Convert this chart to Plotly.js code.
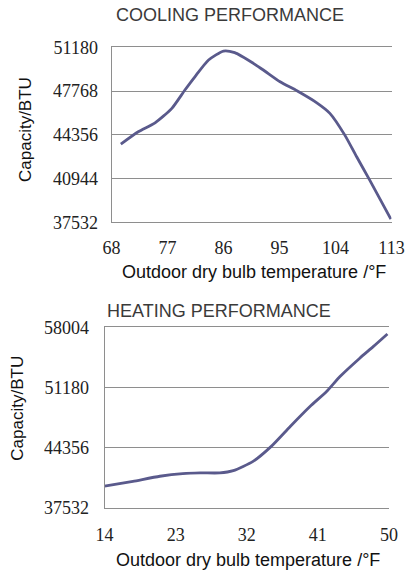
<!DOCTYPE html>
<html>
<head>
<meta charset="utf-8">
<script src="https://cdn.plot.ly/plotly-3.0.1.min.js"></script>
<style>
  html, body { margin: 0; padding: 0; background: #ffffff; }
  #chart { width: 409px; height: 572px; }
</style>
</head>
<body>
<div id="chart"></div>
<script>
// Cooling performance (outdoor dry bulb °F vs capacity BTU)
const coolingTemp = [69.5, 72.3, 75.0, 77.7, 79.8, 81.4, 83.6, 86.0, 87.8, 90.8, 92.4, 95.1, 97.8, 101.0, 103.1, 105.5, 107.4, 109.5, 112.9];
const coolingCap  = [43630, 44590, 45290, 46420, 47850, 48880, 50190, 50890, 50760, 49930, 49410, 48490, 47790, 46850, 46030, 44330, 42640, 40820, 37780];

// Heating performance
const heatingTemp = [14.0, 17.6, 21.0, 23.9, 26.1, 28.6, 30.3, 32.8, 35.1, 37.5, 40.0, 42.1, 43.8, 46.3, 48.0, 49.8];
const heatingCap  = [39980, 40540, 41110, 41410, 41490, 41490, 41750, 42800, 44500, 46760, 49020, 50720, 52420, 54500, 55810, 57250];

// Tick labels
const coolingXTicks = [68, 77, 86, 95, 104, 113];
const coolingYTicks = [37532, 40944, 44356, 47768, 51180];
const heatingXTicks = [14, 23, 32, 41, 50];
const heatingYTicks = [37532, 44356, 51180, 58004];

const titles = {
  cooling: "COOLING PERFORMANCE",
  heating: "HEATING PERFORMANCE",
  yTitle: "Capacity/BTU",
  xTitle: "Outdoor dry bulb temperature /°F"
};

const W = 409, H = 572;
const px = v => v / W;
const py = v => 1 - v / H;

const lineColor = "#5a5a8c";
const gridColor = "#8e8e8e";
const tickFont = { family: "Liberation Serif, serif", size: 18, color: "#222222" };
const titleFont = { family: "Liberation Sans, Arial, sans-serif", size: 18, color: "#3a3a3a" };
const axTitleFont = { family: "Liberation Sans, Arial, sans-serif", size: 17, color: "#111111" };

const traces = [
  { x: coolingTemp, y: coolingCap, xaxis: "x", yaxis: "y", type: "scatter", mode: "lines",
    line: { color: lineColor, width: 2.8, shape: "spline", smoothing: 0.6 }, hoverinfo: "skip" },
  { x: heatingTemp, y: heatingCap, xaxis: "x2", yaxis: "y2", type: "scatter", mode: "lines",
    line: { color: lineColor, width: 2.8, shape: "spline", smoothing: 0.6 }, hoverinfo: "skip" }
];

function xAxis(domain, range, ticks, anchor, standoff) {
  return {
    domain: domain, range: range, tickmode: "array", tickvals: ticks, ticktext: ticks.map(String),
    showgrid: false, zeroline: false, showline: true, mirror: "all", linecolor: gridColor, linewidth: 1,
    ticks: "", tickfont: tickFont, anchor: anchor, ticklabelstandoff: standoff, fixedrange: true
  };
}
function yAxis(domain, range, ticks, anchor, standoff) {
  return {
    domain: domain, range: range, tickmode: "array", tickvals: ticks, ticktext: ticks.map(String),
    showgrid: true, gridcolor: gridColor, gridwidth: 1, zeroline: false,
    showline: true, mirror: false, linecolor: gridColor, linewidth: 1,
    ticks: "", tickfont: tickFont, anchor: anchor, ticklabelstandoff: standoff, fixedrange: true
  };
}

const layout = {
  width: W, height: H,
  margin: { l: 0, r: 0, t: 0, b: 0, pad: 0 },
  paper_bgcolor: "#ffffff", plot_bgcolor: "#ffffff",
  showlegend: false,
  xaxis: xAxis([px(111.5), px(391.5)], [68, 113], coolingXTicks, "y", 9),
  yaxis: yAxis([py(222.3), py(47.3)], [37532, 51180], coolingYTicks, "x", 9),
  xaxis2: xAxis([px(104.5), px(389)], [14, 50], heatingXTicks, "y2", 11),
  yaxis2: yAxis([py(507.8), py(327.3)], [37532, 58004], heatingYTicks, "x2", 11),
  annotations: [
    { text: titles.cooling, xref: "paper", yref: "paper", x: px(114), y: py(15), xanchor: "left", yanchor: "middle",
      showarrow: false, font: titleFont },
    { text: titles.heating, xref: "paper", yref: "paper", x: px(105), y: py(310.7), xanchor: "left", yanchor: "middle",
      showarrow: false, font: titleFont },
    { text: titles.yTitle, xref: "paper", yref: "paper", x: px(25), y: py(130), xanchor: "center", yanchor: "middle",
      textangle: -90, showarrow: false, font: axTitleFont },
    { text: titles.yTitle, xref: "paper", yref: "paper", x: px(16.7), y: py(408), xanchor: "center", yanchor: "middle",
      textangle: -90, showarrow: false, font: axTitleFont },
    { text: titles.xTitle, xref: "paper", yref: "paper", x: px(253.5), y: py(271.7), xanchor: "center", yanchor: "middle",
      showarrow: false, font: { family: axTitleFont.family, size: 18, color: "#111111" } },
    { text: titles.xTitle, xref: "paper", yref: "paper", x: px(248.3), y: py(560), xanchor: "center", yanchor: "middle",
      showarrow: false, font: { family: axTitleFont.family, size: 18, color: "#111111" } }
  ]
};

Plotly.newPlot("chart", traces, layout, { staticPlot: true, displayModeBar: false });
</script>
</body>
</html>
